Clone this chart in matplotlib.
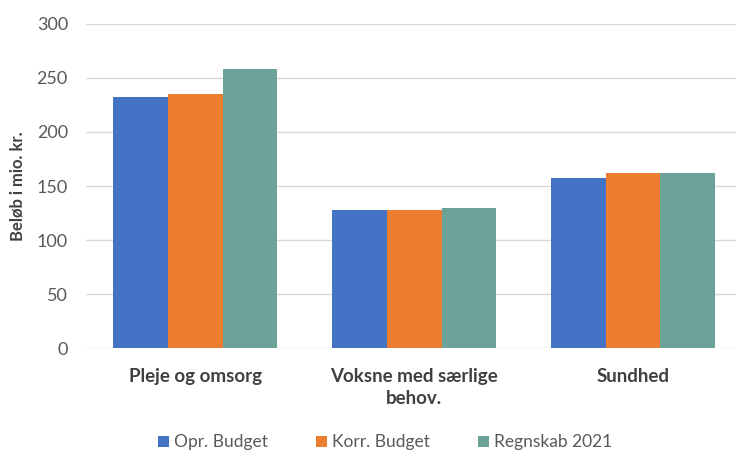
import numpy as np
import matplotlib.pyplot as plt

plt.rcParams['font.family'] = ['Lato', 'DejaVu Sans']

categories = ['Pleje og omsorg', 'Voksne med særlige\nbehov.', 'Sundhed']
series_names = ['Opr. Budget', 'Korr. Budget', 'Regnskab 2021']
opr_budget = [232, 128, 157]
korr_budget = [235, 128, 162]
regnskab = [258, 130, 162]
colors = ['#4472C4', '#ED7D31', '#6BA399']
yticks = [0, 50, 100, 150, 200, 250, 300]

fig = plt.figure(figsize=(7.38, 4.51), dpi=100)
ax = fig.add_axes([86 / 738, 0.228, 650 / 738, 0.719])

x = np.arange(len(categories))
width = 0.25
for i, (vals, name) in enumerate(zip([opr_budget, korr_budget, regnskab], series_names)):
    ax.bar(x + (i - 1) * width, vals, width, color=colors[i], label=name, zorder=3)

ax.set_xlim(-0.5, 2.47)
ax.set_ylim(0, 300)
ax.set_yticks(yticks)
ax.grid(axis='y', color='#d9d9d9', linewidth=1, zorder=0)
for s in ax.spines.values():
    s.set_visible(False)
ax.tick_params(axis='y', length=0, pad=13, labelsize=13, labelcolor='#595959')
ax.tick_params(axis='x', length=0, pad=14)
ax.set_xticks(x)
ax.set_xticklabels(categories, fontsize=13.5, fontweight='bold', color='#404040',
                   linespacing=1.35)
ax.set_ylabel('Beløb i mio. kr.', fontsize=12, fontweight='bold', color='#404040', labelpad=8)

fig.legend(loc='lower center', bbox_to_anchor=(0.522, -0.033), ncol=3, frameon=False,
           fontsize=12.5, handlelength=0.6, handleheight=0.6, handletextpad=0.3,
           columnspacing=2.8, labelcolor='#595959')

fig.savefig('out.png', dpi=100)
